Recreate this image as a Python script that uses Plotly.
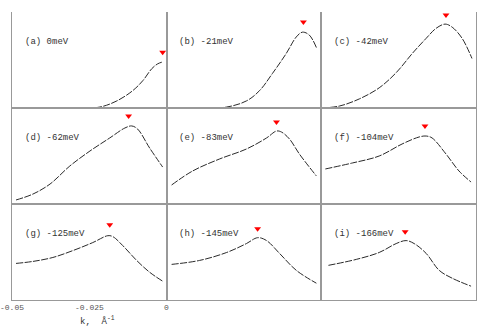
import plotly.graph_objects as go
from plotly.subplots import make_subplots

# Panel labels (binding energy)
labels = ["(a) 0meV", "(b) -21meV", "(c) -42meV",
          "(d) -62meV", "(e) -83meV", "(f) -104meV",
          "(g) -125meV", "(h) -145meV", "(i) -166meV"]

# MDC curves: k (1/A) and normalised intensity
k_a = [-0.0287, -0.0216, -0.0161, -0.0110, -0.0077, -0.0048, -0.0029, -0.0013]
y_a = [0.0, 0.01, 0.074, 0.18, 0.285, 0.41, 0.46, 0.48]

k_b = [-0.0394, -0.0306, -0.0242, -0.0200, -0.0158, -0.0113, -0.0081, -0.0061, -0.0039, -0.0016]
y_b = [0.0, 0.01, 0.074, 0.18, 0.36, 0.57, 0.74, 0.79, 0.76, 0.63]

k_c = [-0.0500, -0.0442, -0.0377, -0.0313, -0.0258, -0.0206, -0.0161, -0.0129, -0.0100, -0.0077, -0.0045, -0.0013]
y_c = [0.0, 0.02, 0.095, 0.21, 0.368, 0.568, 0.726, 0.83, 0.874, 0.842, 0.726, 0.516]

k_d = [-0.0487, -0.0432, -0.0377, -0.0313, -0.0248, -0.0184, -0.0135, -0.0113, -0.0094, -0.0055, -0.0013]
y_d = [0.042, 0.104, 0.208, 0.396, 0.552, 0.688, 0.792, 0.813, 0.781, 0.583, 0.385]

k_e = [-0.0484, -0.0416, -0.0329, -0.0242, -0.0177, -0.0145, -0.0129, -0.0103, -0.0071, -0.0016]
y_e = [0.198, 0.344, 0.469, 0.573, 0.688, 0.76, 0.75, 0.677, 0.521, 0.292]

k_f = [-0.0487, -0.0400, -0.0313, -0.0239, -0.0184, -0.0161, -0.0142, -0.0097, -0.0055, -0.0016]
y_f = [0.365, 0.427, 0.5, 0.625, 0.698, 0.708, 0.688, 0.521, 0.344, 0.229]

k_g = [-0.0487, -0.0432, -0.0368, -0.0303, -0.0239, -0.0190, -0.0174, -0.0142, -0.0097, -0.0055, -0.0013]
y_g = [0.381, 0.402, 0.443, 0.515, 0.598, 0.670, 0.660, 0.567, 0.412, 0.289, 0.196]

k_h = [-0.0484, -0.0394, -0.0306, -0.0242, -0.0206, -0.0177, -0.0135, -0.0081, -0.0016]
y_h = [0.371, 0.412, 0.495, 0.588, 0.649, 0.619, 0.485, 0.309, 0.175]

k_i = [-0.0477, -0.0387, -0.0313, -0.0258, -0.0226, -0.0200, -0.0161, -0.0119, -0.0077, -0.0016]
y_i = [0.361, 0.423, 0.495, 0.588, 0.619, 0.588, 0.485, 0.309, 0.227, 0.144]

# Peak markers (red triangles)
peak_k = [-0.0013, -0.0058, -0.0097, -0.0123, -0.0145, -0.0165, -0.0184, -0.0206, -0.0229]
peak_y = [0.58, 0.895, 0.968, 0.917, 0.854, 0.8125, 0.784, 0.742, 0.711]

# x tick labels under the bottom-left panel
tick_vals = [-0.05, -0.025, 0]
tick_text = ['-0.05', '-0.025', '0']

curves = [(k_a, y_a), (k_b, y_b), (k_c, y_c),
          (k_d, y_d), (k_e, y_e), (k_f, y_f),
          (k_g, y_g), (k_h, y_h), (k_i, y_i)]

fig = make_subplots(rows=3, cols=3, horizontal_spacing=0, vertical_spacing=0)

for i, (kx, yy) in enumerate(curves):
    r, c = i // 3 + 1, i % 3 + 1
    fig.add_trace(go.Scatter(
        x=kx, y=yy, mode='lines',
        line=dict(color='#2a2a2a', width=1, shape='spline', dash='7px,1.5px'),
        showlegend=False, hoverinfo='skip'
    ), row=r, col=c)
    fig.add_trace(go.Scatter(
        x=[peak_k[i]], y=[peak_y[i]], mode='markers',
        marker=dict(symbol='triangle-down', size=6, color='red'),
        showlegend=False
    ), row=r, col=c)
    axn = '' if i == 0 else str(i + 1)
    fig.add_annotation(
        x=0.07, y=0.69, xref=f'x{axn} domain', yref=f'y{axn} domain',
        text=labels[i], showarrow=False, xanchor='left', yanchor='middle',
        font=dict(family='Liberation Mono', size=9, color='#333')
    )

# tick labels and axis title drawn as annotations so the edge labels stay visible
for v, t in zip(tick_vals, tick_text):
    fig.add_annotation(
        x=v, y=0, xref='x7', yref='paper', text=t, showarrow=False,
        xanchor='center', yanchor='top', yshift=-1,
        font=dict(family='Liberation Mono', size=8, color='#555')
    )
fig.add_annotation(
    x=-0.0225, y=0, xref='x7', yref='paper', text='k,  Å<sup>-1</sup>',
    showarrow=False, xanchor='center', yanchor='top', yshift=-13,
    font=dict(family='Liberation Mono', size=9, color='#333')
)

fig.update_xaxes(range=[-0.05, 0], showgrid=False, zeroline=False,
                 showline=True, linecolor='#999', linewidth=1, mirror=True,
                 showticklabels=False, ticks='')
fig.update_xaxes(mirror=False, row=1)
fig.update_yaxes(range=[0, 1], showgrid=False, zeroline=False,
                 showline=True, linecolor='#999', linewidth=1, mirror=True,
                 showticklabels=False, ticks='')

fig.update_layout(
    width=485, height=328,
    margin=dict(l=12, r=9, t=12, b=28),
    paper_bgcolor='white', plot_bgcolor='white',
)

# drop the default body margin so the figure fills the window exactly
fig.write_html("out.html", config={'displayModeBar': False},
               post_script="document.body.style.margin='0';")
